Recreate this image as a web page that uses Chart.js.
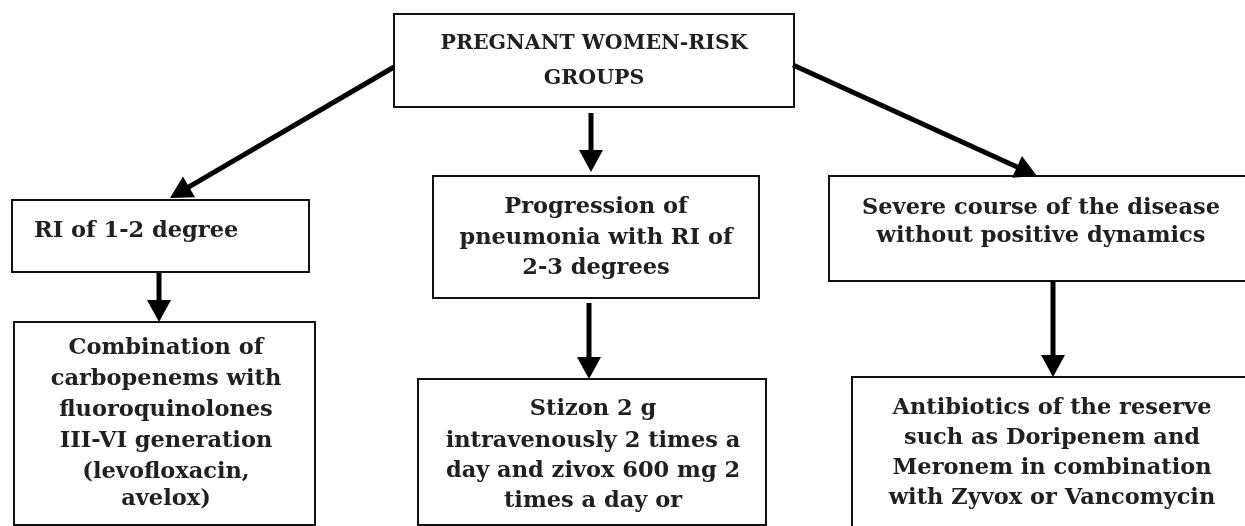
<!DOCTYPE html>
<html>
<head>
<meta charset="utf-8">
<script src="https://cdn.jsdelivr.net/npm/chart.js@4.4.1/dist/chart.umd.min.js"></script>
<style>
  html, body { margin: 0; padding: 0; background: #ffffff; }
  #wrap { width: 1245px; height: 526px; position: relative; }
</style>
</head>
<body>
<div id="wrap"><canvas id="c"></canvas></div>
<script>
// ---- flowchart content (node texts) ----
const nodeTexts = [
  ["PREGNANT WOMEN-RISK", "GROUPS"],
  ["RI of 1-2 degree"],
  ["Progression of", "pneumonia with RI of", "2-3 degrees"],
  ["Severe course of the disease", "without positive dynamics"],
  ["Combination of", "carbopenems with", "fluoroquinolones", "III-VI generation", "(levofloxacin,", "avelox)"],
  ["Stizon 2 g", "intravenously 2 times a", "day and zivox 600 mg 2", "times a day or"],
  ["Antibiotics of the reserve", "such as Doripenem and", "Meronem in combination", "with Zyvox or Vancomycin"]
];
// ---- edges: [from node, to node] ----
const edgeFrom = [0, 0, 0, 1, 2, 3];
const edgeTo   = [1, 2, 3, 4, 5, 6];

// ---- layout (positions in chart units, kept separate from content) ----
const boxLayout = [
  {x0: 394, y0: 14,  x1: 794,  y1: 107, tx: 594,  ty: [44, 79], align: "center", font: 20.5},
  {x0: 12,  y0: 200, x1: 309,  y1: 272, tx: 34,   ty: [231], align: "left", font: 22.5},
  {x0: 433, y0: 176, x1: 759,  y1: 298, tx: 596,  ty: [207, 238, 268], align: "center", font: 22.5},
  {x0: 829, y0: 176, x1: 1260, y1: 281, tx: 1041, ty: [208, 236], align: "center", font: 22.5},
  {x0: 14,  y0: 322, x1: 315,  y1: 525, tx: 166,  ty: [348, 379, 410, 441, 472, 499], align: "center", font: 22.5},
  {x0: 418, y0: 379, x1: 766,  y1: 525, tx: 593,  ty: [409, 441, 471, 501], align: "center", font: 22.5},
  {x0: 852, y0: 377, x1: 1260, y1: 560, tx: 1052, ty: [408, 438, 468, 498], align: "center", font: 22.5}
];
const arrowLayout = [
  {sx: 394, sy: 67,  ex: 170,  ey: 198},
  {sx: 591, sy: 113, ex: 591,  ey: 172},
  {sx: 793, sy: 65,  ex: 1037, ey: 176},
  {sx: 159, sy: 273, ex: 159,  ey: 322},
  {sx: 589, sy: 303, ex: 589,  ey: 379},
  {sx: 1053, sy: 281, ex: 1053, ey: 377}
];

const ink = "#111111";

const flowPlugin = {
  id: "flow",
  afterDatasetsDraw(chart) {
    const ctx = chart.ctx;
    const X = v => chart.scales.x.getPixelForValue(v);
    const Y = v => chart.scales.y.getPixelForValue(v);
    ctx.save();
    // boxes
    nodeTexts.forEach((lines, i) => {
      const b = boxLayout[i];
      ctx.strokeStyle = ink;
      ctx.lineWidth = 2;
      const x0 = X(b.x0), y0 = Y(b.y0), x1 = X(b.x1), y1 = Y(b.y1);
      ctx.strokeRect(x0, y0, x1 - x0, y1 - y0);
      ctx.fillStyle = "#202020";
      ctx.font = "bold " + b.font + "px 'DejaVu Serif', serif";
      ctx.textAlign = b.align;
      ctx.textBaseline = "middle";
      lines.forEach((t, j) => {
        ctx.fillText(t, X(b.tx), Y(b.ty[j]));
      });
    });
    // arrows
    edgeFrom.forEach((f, k) => {
      const a = arrowLayout[k];
      const sx = X(a.sx), sy = Y(a.sy), ex = X(a.ex), ey = Y(a.ey);
      const ang = Math.atan2(ey - sy, ex - sx);
      const headLen = 22, headHalf = 12;
      const bx = ex - headLen * Math.cos(ang), by = ey - headLen * Math.sin(ang);
      ctx.strokeStyle = "#000";
      ctx.lineWidth = 5;
      ctx.lineCap = "butt";
      ctx.beginPath();
      ctx.moveTo(sx, sy);
      ctx.lineTo(bx + 2 * Math.cos(ang), by + 2 * Math.sin(ang));
      ctx.stroke();
      ctx.fillStyle = "#000";
      ctx.beginPath();
      ctx.moveTo(ex, ey);
      ctx.lineTo(bx + headHalf * Math.sin(ang), by - headHalf * Math.cos(ang));
      ctx.lineTo(bx - headHalf * Math.sin(ang), by + headHalf * Math.cos(ang));
      ctx.closePath();
      ctx.fill();
    });
    ctx.restore();
  }
};

new Chart(document.getElementById("c"), {
  type: "scatter",
  data: {
    datasets: [{
      data: boxLayout.map(b => ({x: (b.x0 + b.x1) / 2, y: (b.y0 + b.y1) / 2})),
      pointRadius: 0
    }]
  },
  options: {
    responsive: true,
    maintainAspectRatio: false,
    animation: false,
    layout: { padding: 0 },
    plugins: { legend: { display: false }, tooltip: { enabled: false } },
    scales: {
      x: { type: "linear", min: 0, max: 1245, display: false },
      y: { type: "linear", min: 0, max: 526, reverse: true, display: false }
    }
  },
  plugins: [flowPlugin]
});
</script>
</body>
</html>
